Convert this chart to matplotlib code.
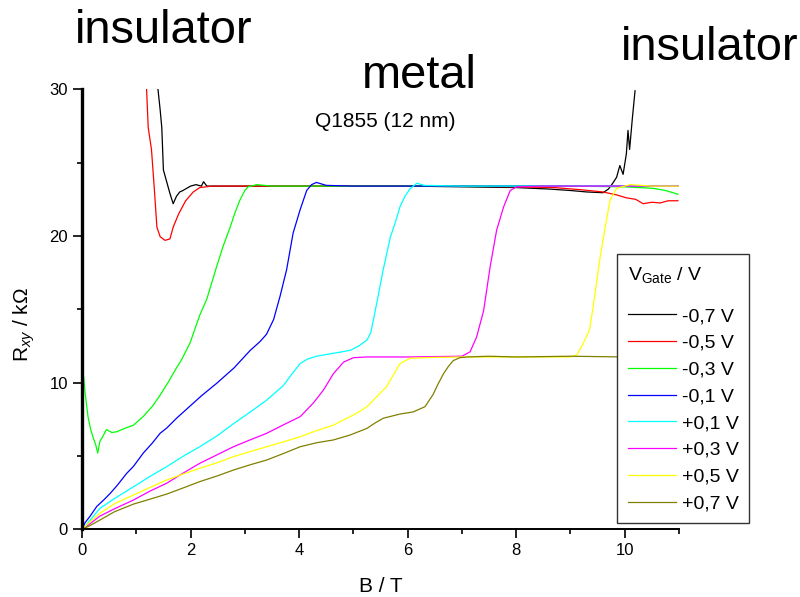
import matplotlib
matplotlib.use("Agg")
import matplotlib.pyplot as plt
from matplotlib.ticker import MultipleLocator

plt.rcParams['font.family'] = ['Liberation Sans', 'DejaVu Sans']
plt.rcParams['mathtext.fontset'] = 'custom'
plt.rcParams['mathtext.rm'] = 'Liberation Sans'
plt.rcParams['mathtext.it'] = 'Liberation Sans:italic'
plt.rcParams['mathtext.default'] = 'regular'

labels = ['-0,7 V', '-0,5 V', '-0,3 V', '-0,1 V', '+0,1 V', '+0,3 V', '+0,5 V', '+0,7 V']
colors = ['#000000', '#ff0000', '#00ff00', '#0000ff', '#00ffff', '#ff00ff', '#ffff00', '#808000']

B_m07 = [1.40, 1.44, 1.47, 1.50, 1.56, 1.62, 1.68, 1.74, 1.80, 1.86, 1.93, 2.0, 2.1, 2.2, 2.24, 2.3,
         3.0, 4.0, 5.0, 6.0, 7.0, 8.0, 8.6, 9.0, 9.3, 9.6, 9.7, 9.78, 9.85, 9.91, 9.97, 10.03, 10.06,
         10.09, 10.14, 10.19]
R_m07 = [30.0, 28.6, 27.4, 24.5, 23.7, 22.9, 22.2, 22.7, 23.0, 23.1, 23.25, 23.4, 23.5, 23.4, 23.7, 23.4,
         23.4, 23.4, 23.4, 23.4, 23.35, 23.3, 23.2, 23.1, 23.0, 22.95, 23.2, 23.6, 24.0, 24.8, 24.2, 25.6, 27.2,
         25.9, 28.0, 29.9]

B_m05 = [1.19, 1.22, 1.28, 1.33, 1.38, 1.44, 1.53, 1.62, 1.68, 1.78, 1.91, 2.05, 2.17, 2.4,
         3.0, 4.0, 5.0, 6.0, 7.0, 8.0, 8.7, 9.2, 9.6, 9.85, 10.03, 10.2, 10.34, 10.5, 10.65, 10.8, 10.98]
R_m05 = [30.0, 27.4, 25.9, 23.35, 20.6, 19.95, 19.7, 19.8, 20.6, 21.5, 22.4, 23.0, 23.3, 23.4,
         23.4, 23.4, 23.4, 23.4, 23.4, 23.35, 23.3, 23.15, 23.0, 22.8, 22.6, 22.5, 22.2, 22.3, 22.25, 22.4, 22.4]

B_m03 = [0.0, 0.03, 0.06, 0.11, 0.16, 0.21, 0.25, 0.29, 0.33, 0.38, 0.45, 0.55, 0.64, 0.8, 0.95, 1.13,
         1.3, 1.44, 1.6, 1.74, 1.84, 1.99, 2.17, 2.30, 2.48, 2.6, 2.73, 2.82, 2.91, 3.0, 3.06, 3.22, 3.5,
         4.0, 5.0, 6.0, 7.0, 8.0, 9.0, 10.0, 10.52, 10.75, 10.98]
R_m03 = [6.0, 10.4, 9.2, 7.7, 6.8, 6.2, 5.8, 5.2, 6.0, 6.3, 6.8, 6.6, 6.65, 6.9, 7.1, 7.7,
         8.4, 9.15, 10.1, 11.0, 11.6, 12.7, 14.6, 15.7, 17.9, 19.3, 20.6, 21.6, 22.45, 23.1, 23.35, 23.5, 23.4,
         23.4, 23.4, 23.4, 23.4, 23.4, 23.4, 23.35, 23.25, 23.1, 22.85]

B_m01 = [0.0, 0.056, 0.15, 0.27, 0.4, 0.52, 0.65, 0.82, 0.95, 1.13, 1.3, 1.44, 1.56, 1.75, 1.99, 2.2,
         2.48, 2.8, 3.10, 3.28, 3.40, 3.53, 3.65, 3.77, 3.89, 4.02, 4.14, 4.23, 4.32, 4.5,
         5.0, 6.0, 7.0, 8.0, 9.0, 10.0, 11.0]
R_m01 = [0.0, 0.45, 0.9, 1.55, 2.0, 2.45, 3.0, 3.8, 4.3, 5.2, 5.9, 6.55, 6.9, 7.6, 8.4, 9.1,
         9.95, 11.0, 12.2, 12.8, 13.3, 14.3, 15.9, 17.7, 20.2, 21.8, 23.1, 23.5, 23.65, 23.45,
         23.4, 23.4, 23.4, 23.4, 23.4, 23.4, 23.4]

B_p01 = [0.0, 0.1, 0.33, 0.6, 0.95, 1.25, 1.56, 1.85, 2.17, 2.5, 2.79, 3.1, 3.40, 3.71, 3.85, 4.02,
         4.15, 4.32, 4.63, 4.94, 5.1, 5.25, 5.32, 5.37, 5.43, 5.55, 5.68, 5.78, 5.86, 5.95, 6.04, 6.17,
         6.3, 7.0, 8.0, 9.0, 10.0, 11.0]
R_p01 = [0.0, 0.4, 1.43, 2.1, 2.9, 3.6, 4.27, 4.95, 5.63, 6.4, 7.2, 8.0, 8.8, 9.8, 10.5, 11.3,
         11.6, 11.8, 12.0, 12.2, 12.5, 12.9, 13.4, 14.3, 15.4, 17.7, 19.9, 21.0, 22.0, 22.7, 23.2, 23.6,
         23.45, 23.4, 23.4, 23.4, 23.4, 23.4]

B_p03 = [0.0, 0.12, 0.33, 0.6, 0.95, 1.25, 1.56, 1.85, 2.17, 2.5, 2.79, 3.1, 3.40, 3.7, 4.02, 4.26,
         4.45, 4.63, 4.82, 5.0, 5.25, 6.0, 7.0, 7.15, 7.27, 7.40, 7.52, 7.64, 7.77, 7.89, 8.01, 8.5,
         9.0, 10.0, 11.0]
R_p03 = [0.0, 0.3, 0.9, 1.4, 2.0, 2.6, 3.14, 3.8, 4.5, 5.1, 5.63, 6.1, 6.54, 7.1, 7.68, 8.6,
         9.5, 10.6, 11.4, 11.7, 11.75, 11.75, 11.8, 12.1, 13.1, 14.9, 17.9, 20.4, 22.0, 23.1, 23.35, 23.4,
         23.4, 23.4, 23.4]

B_p05 = [0.0, 0.1, 0.33, 0.6, 0.95, 1.25, 1.56, 1.85, 2.17, 2.5, 2.79, 3.1, 3.40, 3.7, 4.02, 4.3,
         4.63, 4.94, 5.1, 5.25, 5.43, 5.61, 5.75, 5.86, 6.04, 6.47, 7.0, 8.0, 9.0, 9.12, 9.24, 9.35,
         9.42, 9.54, 9.64, 9.73, 9.85, 10.1, 10.5, 11.0]
R_p05 = [0.0, 0.35, 1.09, 1.75, 2.34, 2.85, 3.36, 3.75, 4.16, 4.55, 4.95, 5.3, 5.63, 5.95, 6.31, 6.7,
         7.1, 7.68, 8.0, 8.36, 9.04, 9.72, 10.6, 11.3, 11.66, 11.72, 11.75, 11.75, 11.75, 11.9, 12.7, 13.6,
         15.2, 18.4, 20.6, 22.45, 23.25, 23.5, 23.4, 23.4]

B_p07 = [0.0, 0.12, 0.33, 0.6, 0.95, 1.25, 1.56, 1.85, 2.17, 2.5, 2.79, 3.1, 3.40, 3.7, 4.02, 4.32,
         4.63, 4.94, 5.25, 5.4, 5.55, 5.86, 6.10, 6.32, 6.47, 6.56, 6.66, 6.75, 6.84, 6.96, 7.09, 7.5,
         8.0, 9.0, 10.0, 11.0]
R_p07 = [0.0, 0.2, 0.63, 1.2, 1.72, 2.05, 2.4, 2.8, 3.25, 3.65, 4.04, 4.4, 4.72, 5.15, 5.63, 5.9,
         6.09, 6.43, 6.88, 7.25, 7.57, 7.86, 8.0, 8.36, 9.2, 9.9, 10.6, 11.1, 11.5, 11.7, 11.75, 11.8,
         11.75, 11.8, 11.75, 11.8]

series_B = [B_m07, B_m05, B_m03, B_m01, B_p01, B_p03, B_p05, B_p07]
series_R = [R_m07, R_m05, R_m03, R_m01, R_p01, R_p03, R_p05, R_p07]

W, H = 800, 597
fig = plt.figure(figsize=(W / 100, H / 100), dpi=100)
x0, x1, y0, y1 = 82, 679, 89.3, 529.3
ax = fig.add_axes([x0 / W, 1 - y1 / H, (x1 - x0) / W, (y1 - y0) / H])

for b, r, c, lab in zip(series_B, series_R, colors, labels):
    ax.plot(b, r, color=c, lw=0.9, label=lab, solid_joinstyle='round')

ax.set_xlim(0, 11)
ax.set_ylim(0, 30)
ax.xaxis.set_major_locator(MultipleLocator(2))
ax.xaxis.set_minor_locator(MultipleLocator(1))
ax.yaxis.set_major_locator(MultipleLocator(10))
ax.yaxis.set_minor_locator(MultipleLocator(5))
for s in ['top', 'right']:
    ax.spines[s].set_visible(False)
ax.spines['left'].set_linewidth(2.4)
ax.spines['bottom'].set_linewidth(1.4)
ax.tick_params(which='major', direction='out', length=6.5, width=1.2, labelsize=12, pad=3.5, color='black')
ax.tick_params(which='minor', direction='out', length=3.8, width=1.2, color='black')

ax.set_xlabel('B / T', fontsize=15)
ax.xaxis.label.set_va('baseline')
ax.xaxis.set_label_coords(0.5, (y1 - 591.7) / (y1 - y0))
ax.set_ylabel(r'R$_{\mathit{xy}}$ / k$\Omega$', fontsize=15)
ax.yaxis.label.set_va('center')
ax.yaxis.set_label_coords((24 - x0) / (x1 - x0), (y1 - 324) / (y1 - y0))

leg = ax.legend(loc='upper left', bbox_to_anchor=(617 / W, 1 - 254 / H), bbox_transform=fig.transFigure,
                borderaxespad=0, fontsize=14, title='V$_{\\rm Gate}$ / V\n', title_fontsize=14,
                handlelength=2.5, handletextpad=0.27, labelspacing=0.47, borderpad=0.55,
                fancybox=False, framealpha=1, edgecolor='#333333', alignment='left')
leg.get_frame().set_linewidth(1.0)
leg.get_title().set_linespacing(0.75)

big = 33.8
fig.text(75 / W, 1 - 43.3 / H, 'insulator', fontsize=big, va='baseline', ha='left')
fig.text(361.7 / W, 1 - 88.3 / H, 'metal', fontsize=big, va='baseline', ha='left')
fig.text(621 / W, 1 - 60 / H, 'insulator', fontsize=big, va='baseline', ha='left')
fig.text(315 / W, 1 - 127.3 / H, 'Q1855 (12 nm)', fontsize=15, va='baseline', ha='left')

fig.savefig('out.png', dpi=100)
